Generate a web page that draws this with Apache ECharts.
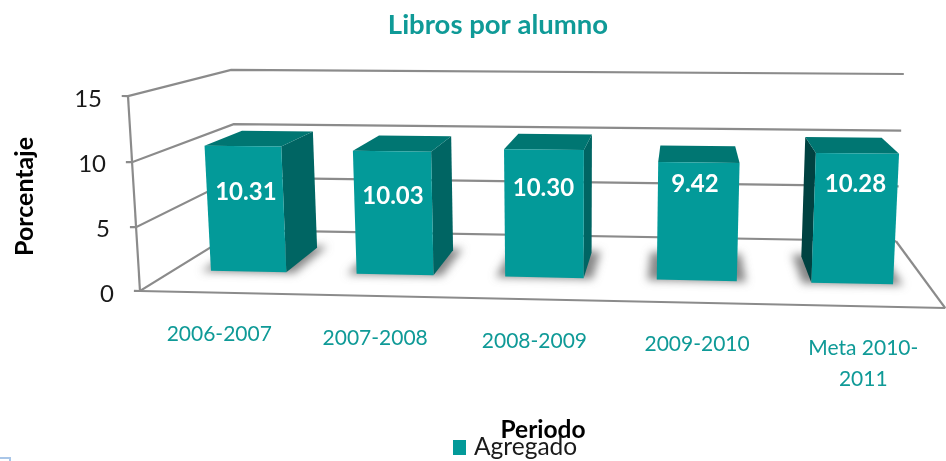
<!DOCTYPE html>
<html>
<head>
<meta charset="utf-8">
<style>html,body{margin:0;padding:0;background:#fff}#c{width:946px;height:461px}</style>
<script src="https://cdn.jsdelivr.net/npm/echarts@6/dist/echarts.min.js"></script>
</head>
<body>
<div id="c"></div>
<script>
const categories = ['2006-2007', '2007-2008', '2008-2009', '2009-2010', 'Meta 2010-\n2011'];
const values = [10.31, 10.03, 10.30, 9.42, 10.28];
const yTicks = [0, 5, 10, 15];

const FONT = 'Lato, "Open Sans", sans-serif';
const TEAL = '#039a99';
const GRID = { left: 140, right: 0, top: 96, bottom: 170 };

// Perspective of the box: origin is the front-left floor corner; three vanishing points
const O = [140, 291], VX = [-14600, -20], VY = [570, 7280], VZ = [685, -45];
const A = -0.0518, B = -0.02714, C = 0.221;
function project(u, v, w) {
  const d = 1 + A * u + B * v + C * w;
  return [
    (O[0] + A * u * VX[0] + B * v * VY[0] + C * w * VZ[0]) / d,
    (O[1] + A * u * VX[1] + B * v * VY[1] + C * w * VZ[1]) / d
  ];
}
const BAR_DU = 0.104, BAR_SHIFT = 0.0035, W_FRONT = 0.30, W_BACK = 0.70;
const LABEL_DROP = [47, 45, 39, 22, 31];
const LABEL_NUDGE = [3, 1, -0.5, -4, -2];

function poly(points, fill) {
  return { type: 'polygon', shape: { points }, style: { fill } };
}

function renderBar(params, api) {
  const cs = params.coordSys;
  const i = api.value(0), val = api.value(1);
  const top = api.coord([i, val]);
  const u = (top[0] - cs.x) / cs.width + BAR_SHIFT;
  const v = (cs.y + cs.height - top[1]) / cs.height;
  const l = u - BAR_DU / 2, r = u + BAR_DU / 2;
  const P = project;
  const fbl = P(l, 0, W_FRONT), fbr = P(r, 0, W_FRONT), ftl = P(l, v, W_FRONT), ftr = P(r, v, W_FRONT);
  const bbl = P(l, 0, W_BACK), bbr = P(r, 0, W_BACK), btl = P(l, v, W_BACK), btr = P(r, v, W_BACK);
  const kids = [];
  const s = 0.012, sw = 0.03, OFF = 3000;
  kids.push({
    type: 'polygon',
    shape: { points: [P(l - s, 0, W_FRONT - 0.01), P(r + s, 0, W_FRONT - 0.01), P(r + s, 0, W_BACK + sw), P(l - s, 0, W_BACK + sw)].map(p => [p[0] - OFF, p[1]]) },
    style: { fill: '#000', shadowBlur: 8, shadowOffsetX: OFF, shadowColor: 'rgba(95,95,95,0.75)' }
  });
  if (btr[0] > ftr[0] + 1) kids.push(poly([ftr, btr, bbr, fbr], '#006563'));
  if (btl[0] < ftl[0] - 1) kids.push(poly([ftl, btl, bbl, fbl], '#004241'));
  kids.push(poly([ftl, btl, btr, ftr], '#007672'));
  kids.push(poly([ftl, ftr, fbr, fbl], TEAL));
  kids.push({
    type: 'text',
    style: {
      text: val.toFixed(2), x: (ftl[0] + ftr[0]) / 2 + LABEL_NUDGE[i], y: ftl[1] + LABEL_DROP[i],
      fill: '#fff', font: 'bold 24px ' + FONT, align: 'center', verticalAlign: 'middle'
    }
  });
  return { type: 'group', children: kids };
}

function line(points, w) {
  return { type: 'polyline', shape: { points }, style: { stroke: '#8b8b8b', lineWidth: w || 2.2, fill: null } };
}

function renderWall(params, api) {
  const cs = params.coordSys;
  const t = api.value(0);
  const v = (cs.y + cs.height - api.coord([0, t])[1]) / cs.height;
  const kids = [line([project(-0.008, v, 0), project(0, v, 0), project(0, v, 1), project(1, v, 1)])];
  if (params.dataIndex === 0) {
    kids.push(line([project(0, 0, 0), project(0, 1, 0)]));
    kids.push(line([project(0, 0, 0), project(1, 0, 0)]));
    kids.push(line([project(1, 0, 1), project(1, 0, 0)]));
  }
  return { type: 'group', children: kids };
}

function renderCat(params, api) {
  const cs = params.coordSys;
  const i = api.value(0);
  const u = (api.coord([i, 0])[0] - cs.x) / cs.width;
  const p = project(u, 0, 0);
  return {
    type: 'text',
    style: {
      text: categories[i], x: p[0] + 2.5, y: p[1] + 26.5,
      fill: '#0f9a97', font: '21px ' + FONT, align: 'center', verticalAlign: 'top', lineHeight: 31
    }
  };
}

const rich = {};
yTicks.forEach(t => { rich['t' + t] = { fontSize: 24, fontFamily: FONT, color: '#1a1a1a', padding: [6, 12 * t / 15, 0, 0] }; });

const chart = echarts.init(document.getElementById('c'), null, { renderer: 'canvas' });
chart.setOption({
  animation: false,
  backgroundColor: '#fff',
  title: {
    text: 'Libros por alumno', left: 493, top: 6, textAlign: 'center',
    textStyle: { color: '#0f9a97', fontSize: 27.5, fontWeight: 'bold', fontFamily: FONT }
  },
  grid: GRID,
  legend: {
    data: ['Agregado'], left: 448, top: 430, icon: 'rect', itemWidth: 13, itemHeight: 15,
    textStyle: { fontSize: 24.5, color: '#1a1a1a', fontFamily: FONT, padding: [0, 0, 0, 3] }
  },
  xAxis: {
    type: 'category', data: categories, name: 'Periodo', nameLocation: 'middle', nameGap: 127,
    nameTextStyle: { fontSize: 24.5, fontWeight: 'bold', color: '#000', fontFamily: FONT },
    axisLine: { show: false }, axisTick: { show: false }, axisLabel: { show: false }
  },
  yAxis: {
    type: 'value', min: 0, max: 15, interval: 5, name: 'Porcentaje', nameLocation: 'middle', nameGap: 103,
    nameTextStyle: { fontSize: 25, fontWeight: 'bold', color: '#000', fontFamily: FONT, padding: [0, 6, 0, 0] },
    splitLine: { show: false }, axisLine: { show: false }, axisTick: { show: false },
    axisLabel: { margin: 26, formatter: t => '{t' + t + '|' + t + '}', rich }
  },
  graphic: [{
    type: 'polyline', shape: { points: [[0, 458], [10, 458], [10, 461]] },
    style: { stroke: '#a9c6e8', lineWidth: 2, fill: null }
  }],
  series: [
    { type: 'custom', name: 'walls', renderItem: renderWall, data: yTicks.map(t => [t]), z: 1, silent: true, encode: { y: 0 } },
    { type: 'custom', name: 'cats', renderItem: renderCat, data: categories.map((c, i) => [i]), z: 1, silent: true, encode: { x: 0 } },
    {
      type: 'custom', name: 'Agregado', renderItem: renderBar, z: 2,
      itemStyle: { color: TEAL },
      data: values.map((v, i) => [i, v]), encode: { x: 0, y: 1 }
    }
  ]
});
</script>
</body>
</html>
